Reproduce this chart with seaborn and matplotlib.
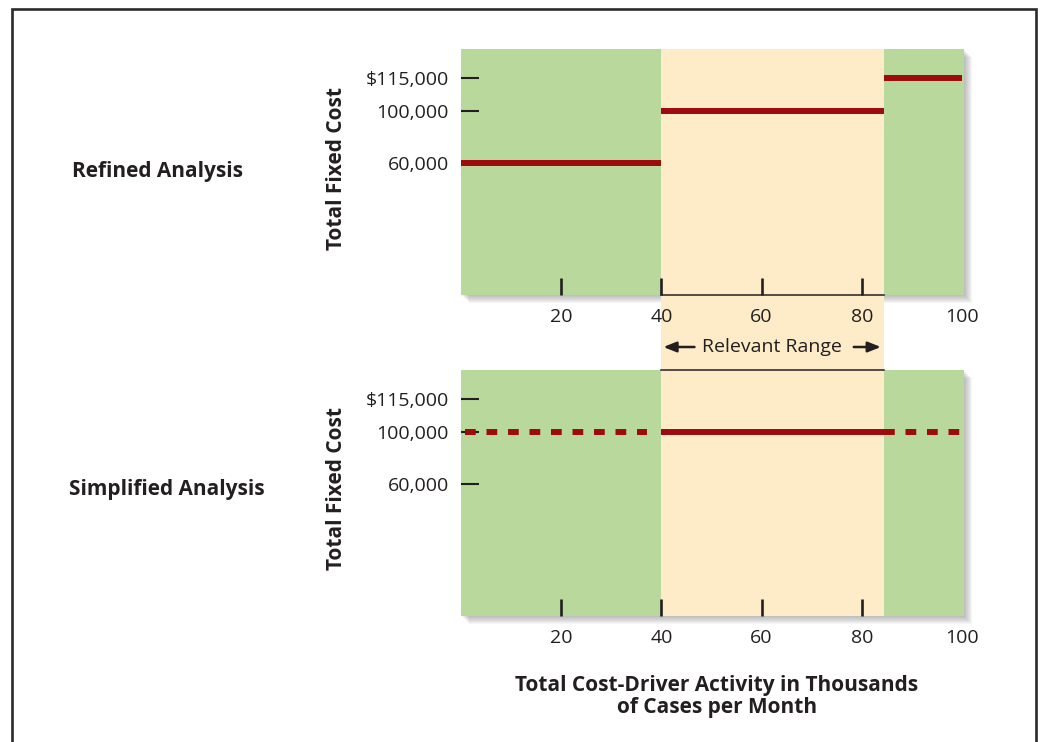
import numpy as np
import pandas as pd
import matplotlib
matplotlib.use("Agg")
import matplotlib.pyplot as plt
import matplotlib.transforms as mtransforms
from matplotlib.patches import Rectangle
from matplotlib.lines import Line2D
import seaborn as sns

sns.set_theme(style="white")
plt.rcParams["font.family"] = ["Open Sans", "DejaVu Sans"]
plt.rcParams["lines.solid_capstyle"] = "butt"
plt.rcParams["lines.dash_capstyle"] = "butt"

# ---- data -------------------------------------------------------------
panel_titles = ["Refined Analysis", "Simplified Analysis"]
y_label = "Total Fixed Cost"
x_label = "Total Cost-Driver Activity in Thousands\nof Cases per Month"
range_label = "Relevant Range"

x_tick_values = [20, 40, 60, 80, 100]
x_tick_labels = ["20", "40", "60", "80", "100"]
y_tick_values = [60000, 100000, 115000]
y_tick_labels = ["60,000", "100,000", "$115,000"]

relevant_range = [40, 84.5]

# refined analysis: a step cost, one level per activity band
refined_start = [0, 40, 84.5]
refined_end = [40, 84.5, 100]
refined_cost = [60000, 100000, 115000]

# simplified analysis: a single level, solid inside the relevant range
simplified_start = [0.8, 40, 84.5]
simplified_end = [37.2, 84.5, 100]
simplified_cost = [100000, 100000, 100000]
simplified_kind = ["outside", "inside", "outside"]

# schematic (non-proportional) cost axis
cost_knots = [0, 60000, 100000, 115000, 130000]
height_knots = [0, 132, 184, 217, 246]

# ---- style ------------------------------------------------------------
GREEN = "#b8d99b"
YELLOW = "#feecc8"
RED = "#9e0b0f"
INK = "#231f20"
BOLD = dict(family=["Open Sans", "DejaVu Sans"], weight="bold", size=15, color=INK)
REG_SIZE = 14

W, H = 1040, 742
fig = plt.figure(figsize=(W / 100, H / 100), dpi=100)
fig.patch.set_facecolor("white")


def frac_box(left, top, right, bottom):
    return [left / W, 1 - bottom / H, (right - left) / W, (bottom - top) / H]


def segments(start, end, cost, extra=None):
    rows = []
    for i, (s, e, c) in enumerate(zip(start, end, cost)):
        for xv in (s, e):
            row = {"seg": i, "activity": xv, "cost": c}
            if extra is not None:
                row["kind"] = extra[i]
            rows.append(row)
    return pd.DataFrame(rows)


def fwd(v):
    return np.interp(v, cost_knots, height_knots)


def inv(h):
    return np.interp(h, height_knots, cost_knots)


boxes = [(461, 49, 964, 295), (461, 370, 964, 616)]
label_centres = [169, 488.5]

# soft drop shadows behind each panel
for (l, t, r, b) in boxes:
    for k in range(1, 9):
        x0, y0, w, h = frac_box(l + k, t + k, r + k, b + k)
        fig.add_artist(Rectangle((x0, y0), w, h, transform=fig.transFigure,
                                 facecolor="#5a5a5a", alpha=0.055, lw=0, zorder=-1))

ax_top = fig.add_axes(frac_box(*boxes[0]))
ax_bot = fig.add_axes(frac_box(*boxes[1]))

sns.lineplot(data=segments(refined_start, refined_end, refined_cost),
             x="activity", y="cost", units="seg", estimator=None, sort=False,
             color=RED, lw=4.3, legend=False, ax=ax_top)
sns.lineplot(data=segments(simplified_start, simplified_end, simplified_cost, simplified_kind),
             x="activity", y="cost", units="seg", estimator=None, sort=False,
             style="kind", dashes={"inside": "", "outside": (1.8, 1.8)},
             color=RED, lw=4.3, legend=False, ax=ax_bot)

for ax, box, yc in zip([ax_top, ax_bot], boxes, label_centres):
    ax.set_facecolor(GREEN)
    ax.axvspan(*relevant_range, color=YELLOW, lw=0, zorder=1)
    ax.set_axisbelow("line")
    ax.set_yscale("function", functions=(fwd, inv))
    ax.set_ylim(cost_knots[0], cost_knots[-1])
    ax.set_xlim(0, 100.4)

    ax.set_yticks(y_tick_values, labels=y_tick_labels)
    ax.set_xticks(x_tick_values, labels=x_tick_labels)
    ax.set_xticks(x_tick_values[:-1], minor=True)
    ax.xaxis.remove_overlapping_locs = False
    ax.tick_params(axis="y", direction="in", length=13, width=1.5, color=INK,
                   pad=8.6, labelsize=REG_SIZE, labelcolor=INK, left=True)
    ax.tick_params(axis="x", which="major", length=0, pad=9.2, labelsize=REG_SIZE,
                   labelcolor=INK, bottom=True)
    ax.tick_params(axis="x", which="minor", direction="in", length=12, width=1.9,
                   color=INK, bottom=True)

    for side in ["left", "right", "top", "bottom"]:
        ax.spines[side].set_visible(False)

    ax.set_xlabel("")
    ax.set_ylabel(y_label, **BOLD)
    ax.yaxis.label.set_verticalalignment("center")
    ax.yaxis.set_label_coords((337 - box[0]) / (box[2] - box[0]),
                              (box[3] - yc) / (box[3] - box[1]))
    ax.grid(False)

# relevant-range connector between the two panels
blend = mtransforms.blended_transform_factory(ax_top.transData, ax_top.transAxes)
gap = (370 - 295) / 246
ax_top.add_patch(Rectangle((relevant_range[0], -gap), relevant_range[1] - relevant_range[0], gap,
                           transform=blend, facecolor=YELLOW, lw=0, clip_on=False, zorder=1))
ax_top.spines["bottom"].set_visible(True)
ax_top.spines["bottom"].set_bounds(*relevant_range)
ax_top.spines["bottom"].set_color(INK)
ax_top.spines["bottom"].set_linewidth(1.1)
ax_bot.spines["top"].set_visible(True)
ax_bot.spines["top"].set_bounds(*relevant_range)
ax_bot.spines["top"].set_color(INK)
ax_bot.spines["top"].set_linewidth(1.1)

arrow_y = -(347 - 295) / 246
mid = 62
ax_top.text(mid, arrow_y, range_label, transform=blend, ha="center", va="center",
            fontsize=REG_SIZE, color=INK, zorder=3)
arrow = dict(arrowstyle="-|>,head_length=0.55,head_width=0.22", color=INK, lw=1.8,
             mutation_scale=14, shrinkA=0, shrinkB=0)
ax_top.annotate("", xy=(relevant_range[0] + 0.4, arrow_y), xytext=(46.6, arrow_y),
                xycoords=blend, textcoords=blend, arrowprops=arrow, annotation_clip=False)
ax_top.annotate("", xy=(relevant_range[1] - 0.7, arrow_y), xytext=(78.4, arrow_y),
                xycoords=blend, textcoords=blend, arrowprops=arrow, annotation_clip=False)

# panel titles and the shared x-axis title
fig.text(157.5 / W, 1 - 171 / H, panel_titles[0], ha="center", va="center", **BOLD)
fig.text(167 / W, 1 - 489 / H, panel_titles[1], ha="center", va="center", **BOLD)
fig.text(717 / W, 1 - 696.5 / H, x_label, ha="center", va="center",
         multialignment="center", linespacing=1.12, **BOLD)

# outer frame, open at the bottom
frame_x = [12 / W, 12 / W, 1036 / W, 1036 / W]
frame_y = [0, 1 - 8.5 / H, 1 - 8.5 / H, 0]
fig.add_artist(Line2D(frame_x, frame_y, transform=fig.transFigure, color="#2b2b2b",
                      lw=1.9, solid_joinstyle="miter"))

fig.savefig("out.png", dpi=100, facecolor="white")
